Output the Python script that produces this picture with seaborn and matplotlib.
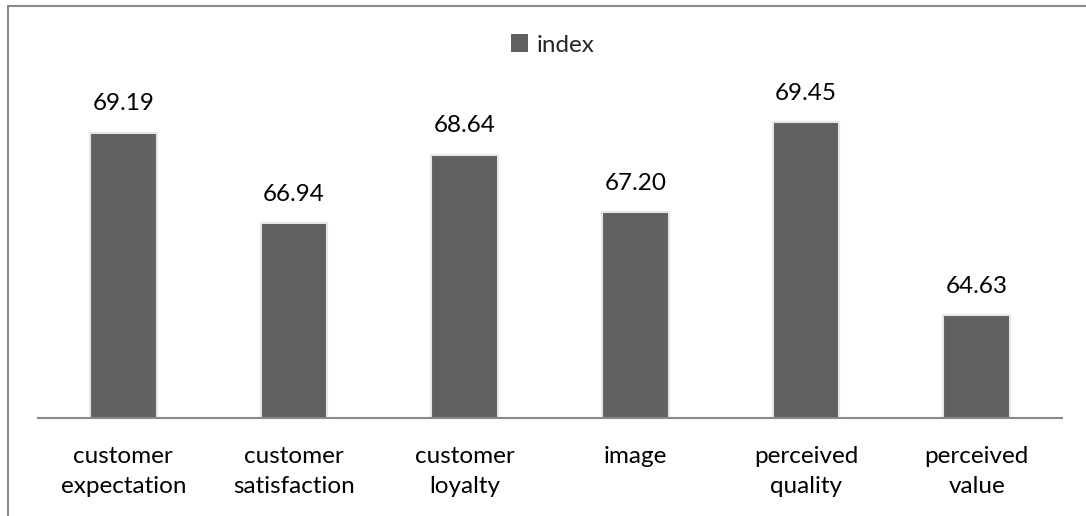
import matplotlib
matplotlib.use("Agg")
import matplotlib.pyplot as plt
import seaborn as sns
import pandas as pd
from matplotlib.lines import Line2D
from matplotlib.patches import Patch

categories = ["customer\nexpectation", "customer\nsatisfaction", "customer\nloyalty",
              "image", "perceived\nquality", "perceived\nvalue"]
values = [69.19, 66.94, 68.64, 67.20, 69.45, 64.63]
series_name = "index"

df = pd.DataFrame({"category": categories, "value": values})

sns.set_theme(style="white")
plt.rcParams["font.family"] = ["Lato", "DejaVu Sans"]

W, H = 1086, 516
fig = plt.figure(figsize=(W / 100, H / 100), dpi=100)
left, right, bottom, top = 38, 1062, 418, 40
ax = fig.add_axes([left / W, 1 - bottom / H, (right - left) / W, (bottom - top) / H])

bar_color = "#606060"
sns.barplot(data=df, x="category", y="value", color=bar_color, width=0.39,
            edgecolor="#e6e6e6", linewidth=1.5, saturation=1, ax=ax)

ymin = 62.06
ax.set_ylim(ymin, ymin + (bottom - top) / 40.04)
ax.set_xlim(-0.5, len(categories) - 0.5)

fs = 17.5
for p, v in zip(ax.patches, values):
    ax.annotate(f"{v:.2f}", (p.get_x() + p.get_width() / 2, p.get_height() + p.get_y()),
                xytext=(0, 13), textcoords="offset points", ha="center", va="bottom",
                fontsize=fs, color="#000000")

for s in ["top", "right", "left"]:
    ax.spines[s].set_visible(False)
ax.spines["bottom"].set_color("#888888")
ax.spines["bottom"].set_linewidth(1.5)
ax.set_yticks([])
ax.set_xlabel("")
ax.set_ylabel("")
ax.tick_params(axis="x", length=0, pad=20.5, labelsize=fs, labelcolor="#000000")
for t in ax.get_xticklabels():
    t.set_linespacing(1.5)

handles = [Patch(facecolor=bar_color, edgecolor="none", label=series_name)]
fig.legend(handles=handles, loc="center", bbox_to_anchor=(553 / W, 1 - 45 / H),
           frameon=False, fontsize=fs, handlelength=0.7, handleheight=0.7,
           handletextpad=0.35)

# chart border (top and left)
fig.add_artist(Line2D([8 / W, 1], [1 - 6 / H, 1 - 6 / H], transform=fig.transFigure,
                      color="#888888", linewidth=1.5))
fig.add_artist(Line2D([8 / W, 8 / W], [0, 1 - 6 / H], transform=fig.transFigure,
                      color="#888888", linewidth=1.5))

fig.savefig("out.png", dpi=100, facecolor="white")
